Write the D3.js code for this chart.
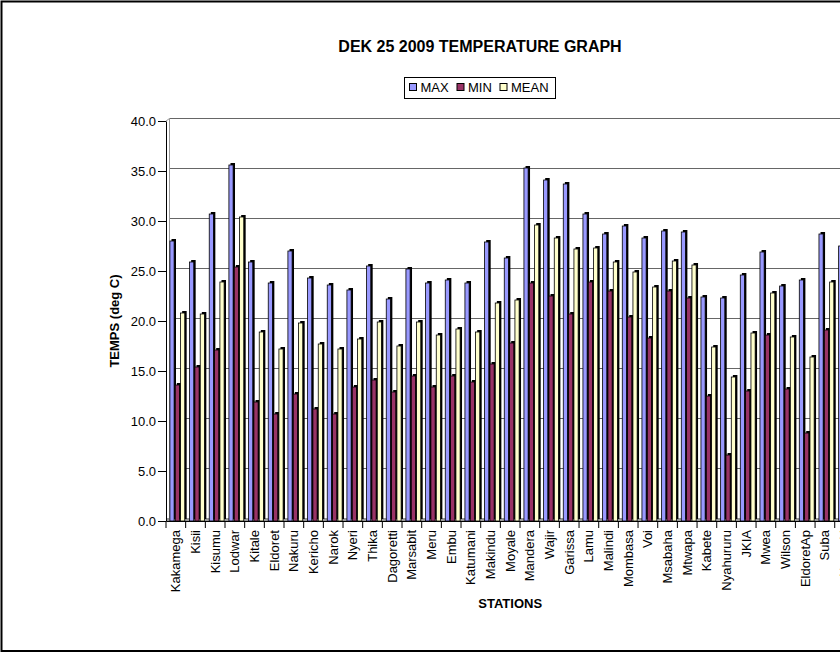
<!DOCTYPE html>
<html>
<head>
<meta charset="utf-8">
<script src="https://cdn.jsdelivr.net/npm/d3@7"></script>
<style>
  body { margin: 0; background: #fff; }
  svg { font-family: 'Liberation Sans', Arial, sans-serif; }
</style>
</head>
<body>
<svg id="chart" width="840" height="654"></svg>
<script>
/*Data*/
var stations = ['Kakamega', 'Kisii', 'Kisumu', 'Lodwar', 'Kitale', 'Eldoret', 'Nakuru',
  'Kericho', 'Narok', 'Nyeri', 'Thika', 'Dagoretti', 'Marsabit', 'Meru', 'Embu',
  'Katumani', 'Makindu', 'Moyale', 'Mandera', 'Wajir', 'Garissa', 'Lamu', 'Malindi',
  'Mombasa', 'Voi', 'Msabaha', 'Mtwapa', 'Kabete', 'Nyahururu', 'JKIA', 'Mwea',
  'Wilson', 'EldoretAp', 'Suba', 'Nanyuki'];
var maxT = [28.0, 25.9, 30.7, 35.6, 25.9, 23.8, 27.0, 24.3, 23.6, 23.1, 25.5, 22.2,
  25.2, 23.8, 24.1, 23.8, 27.9, 26.3, 35.3, 34.1, 33.7, 30.7, 28.7, 29.5, 28.3, 29.0,
  28.9, 22.4, 22.3, 24.6, 26.9, 23.5, 24.1, 28.7, 27.5];
var minT = [13.6, 15.4, 17.1, 25.4, 11.9, 10.7, 12.7, 11.2, 10.7, 13.4, 14.1, 12.9,
  14.5, 13.4, 14.5, 13.9, 15.7, 17.8, 23.8, 22.5, 20.7, 23.9, 23.0, 20.4, 18.3, 23.0,
  22.3, 12.5, 6.6, 13.0, 18.6, 13.2, 8.8, 19.1, 12.0];
var meanT = [20.8, 20.7, 23.9, 30.4, 18.9, 17.2, 19.8, 17.7, 17.2, 18.2, 19.9, 17.5,
  19.9, 18.6, 19.2, 18.9, 21.8, 22.1, 29.6, 28.3, 27.2, 27.3, 25.9, 24.9, 23.4, 26.0,
  25.6, 17.4, 14.4, 18.8, 22.8, 18.4, 16.4, 23.9, 19.8];
var series = ['MAX', 'MIN', 'MEAN'];
var colors = ['#9999FF', '#993366', '#FFFFCC'];
var yTicks = [0, 5, 10, 15, 20, 25, 30, 35, 40];

var values = [maxT, minT, meanT];
var data = stations.map(function(s, i) {
  return {name: s, vals: series.map(function(k, j) { return {key: k, i: j, v: values[j][i]}; })};
});

/*Layout*/
var svg = d3.select('#chart'),
    plotLeft = 166, plotRight = 854.4, plotTop = 121, plotBase = 521,
    depth = 2, wallX = 3.5, wallY = 2.5;

var x = d3.scaleBand().domain(stations).range([plotLeft, plotRight]),
    x1 = d3.scaleBand().domain(series).range([3.5, 19.5]),
    y = d3.scaleLinear().domain([0, 40]).range([plotBase, plotTop]);

// chart frame
svg.append('rect')
    .attr('x', 1.5).attr('y', 1.5)
    .attr('width', 957).attr('height', 649.5)
    .attr('fill', '#fff').attr('stroke', '#000').attr('stroke-width', 2);

// title
svg.append('text')
    .attr('x', 480).attr('y', 52)
    .attr('text-anchor', 'middle')
    .style('font-weight', 'bold').style('font-size', '16px')
    .text('DEK 25 2009 TEMPERATURE GRAPH');

// legend
var legend = svg.append('g');
legend.append('rect')
    .attr('x', 404.5).attr('y', 77.5).attr('width', 151).attr('height', 21)
    .attr('fill', '#fff').attr('stroke', '#000');
var legX = [409, 456.5, 499.5];
series.forEach(function(k, j) {
  legend.append('rect')
      .attr('x', legX[j] + 0.5).attr('y', 83.5).attr('width', 7).attr('height', 7)
      .attr('fill', colors[j]).attr('stroke', '#000');
  legend.append('text')
      .attr('x', legX[j] + 11.5).attr('y', 92)
      .style('font-size', '13px')
      .text(k);
});

// back wall, gridlines and floor
var g = svg.append('g');
g.selectAll('.grid')
  .data(yTicks.filter(function(d) { return d > 0; }))
  .enter().append('line')
    .attr('class', 'grid')
    .attr('x1', plotLeft + wallX).attr('x2', plotRight + wallX)
    .attr('y1', function(d) { return y(d) - wallY; })
    .attr('y2', function(d) { return y(d) - wallY; })
    .attr('stroke', '#666');
g.append('line')
    .attr('x1', plotLeft + wallX).attr('x2', plotLeft + wallX)
    .attr('y1', y(40) - wallY).attr('y2', plotBase - wallY)
    .attr('stroke', '#999');
g.append('line')
    .attr('x1', plotLeft).attr('x2', plotLeft + wallX)
    .attr('y1', y(40)).attr('y2', y(40) - wallY)
    .attr('stroke', '#999');
g.append('rect')
    .attr('x', plotLeft).attr('y', plotBase - 3)
    .attr('width', plotRight - plotLeft + wallX).attr('height', 3)
    .attr('fill', '#999');

// bars with a dark depth side
var groups = svg.selectAll('.station')
  .data(data)
  .enter().append('g')
    .attr('class', 'station')
    .attr('transform', function(d) { return 'translate(' + x(d.name) + ',0)'; });

var bars = groups.selectAll('.bar')
  .data(function(d) { return d.vals; })
  .enter().append('g')
    .attr('class', 'bar');

bars.append('rect')
    .attr('x', function(d) { return x1(d.key) + depth; })
    .attr('y', function(d) { return y(d.v) - depth; })
    .attr('width', 4.5)
    .attr('height', function(d) { return plotBase - y(d.v); })
    .attr('fill', '#000');

bars.append('rect')
    .attr('x', function(d) { return x1(d.key) + 0.4; })
    .attr('y', function(d) { return y(d.v); })
    .attr('width', 4.2)
    .attr('height', function(d) { return plotBase - y(d.v); })
    .attr('fill', function(d) { return colors[d.i]; })
    .attr('stroke', '#000').attr('stroke-width', 0.8);

// y axis
var yAxis = svg.append('g')
    .attr('transform', 'translate(' + plotLeft + ',0)')
    .call(d3.axisLeft(y).tickValues(yTicks).tickFormat(d3.format('.1f'))
      .tickSize(8).tickSizeOuter(0).tickPadding(2));
yAxis.selectAll('text').style('font-size', '13px').attr('fill', '#000');
yAxis.selectAll('line, path').attr('stroke', '#000');

// x axis
var xAxis = svg.append('g')
    .attr('transform', 'translate(0,' + plotBase + ')')
    .call(d3.axisBottom(x).tickSize(0).tickSizeOuter(0));
xAxis.select('.domain').attr('stroke', '#000');
xAxis.selectAll('text')
    .style('font-size', '13px').attr('fill', '#000')
    .attr('transform', 'rotate(-90)')
    .attr('x', -9).attr('y', 0).attr('dy', '0.35em')
    .attr('text-anchor', 'end');
xAxis.selectAll('.ctick')
  .data(stations)
  .enter().append('line')
    .attr('class', 'ctick')
    .attr('x1', function(d) { return x(d); })
    .attr('x2', function(d) { return x(d); })
    .attr('y1', 0).attr('y2', 7)
    .attr('stroke', '#000');

// axis titles
svg.append('text')
    .attr('transform', 'translate(119,' + (plotTop + plotBase) / 2 + ') rotate(-90)')
    .attr('text-anchor', 'middle')
    .style('font-weight', 'bold').style('font-size', '13px')
    .text('TEMPS (deg C)');

svg.append('text')
    .attr('x', (plotLeft + plotRight) / 2).attr('y', 608)
    .attr('text-anchor', 'middle')
    .style('font-weight', 'bold').style('font-size', '13px')
    .text('STATIONS');
</script>
</body>
</html>
